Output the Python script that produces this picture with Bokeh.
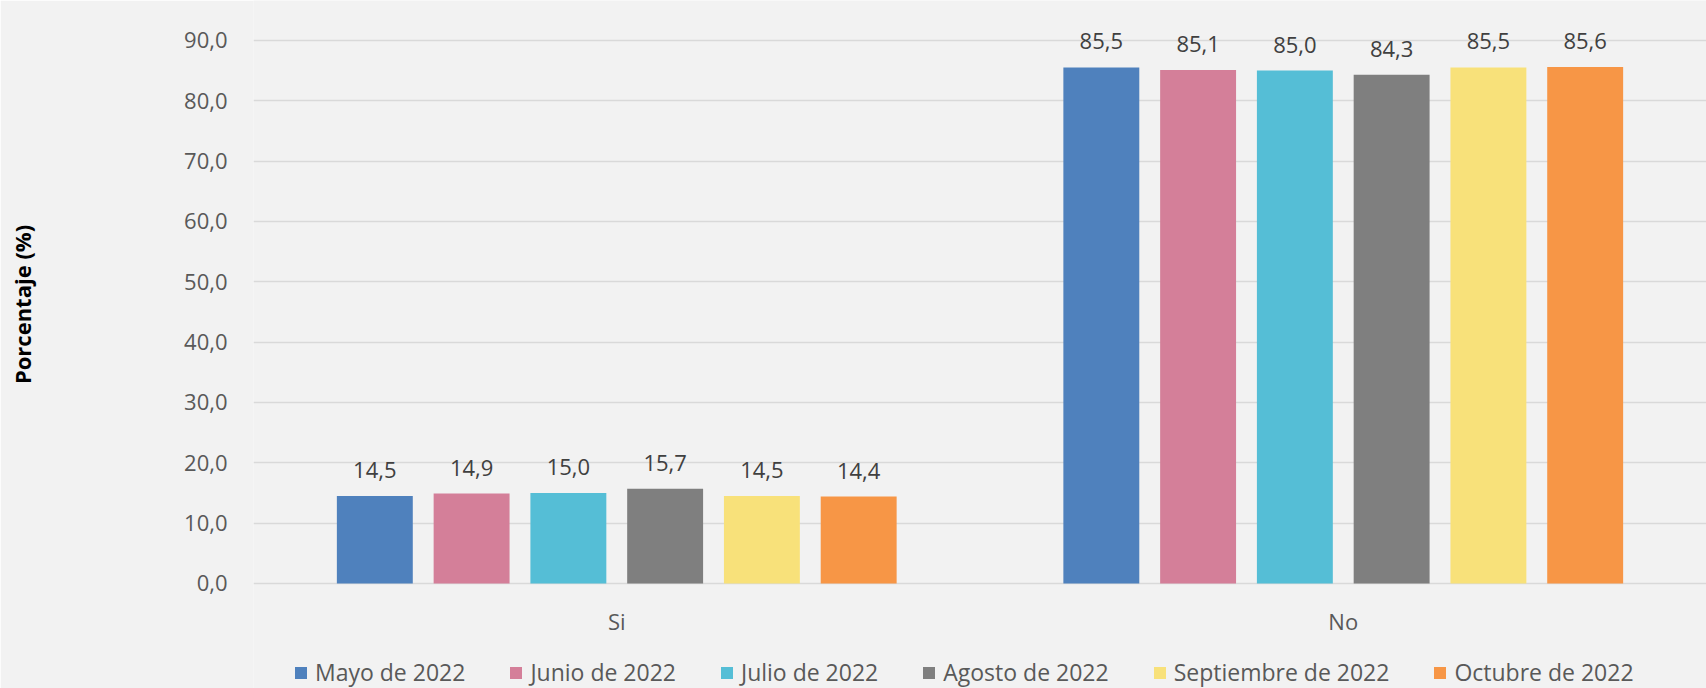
from bokeh.plotting import figure
from bokeh.models import (ColumnDataSource, FactorRange, Range1d, FixedTicker,
                          LabelSet, Legend, LegendItem)
from bokeh.transform import dodge
from bokeh.embed import file_html
from bokeh.resources import INLINE
from bokeh.core.properties import value

# ---------------- data ----------------
categories = ["Si", "No"]
series_names = ["Mayo de 2022", "Junio de 2022", "Julio de 2022",
                "Agosto de 2022", "Septiembre de 2022", "Octubre de 2022"]
mayo = [14.5, 85.5]
junio = [14.9, 85.1]
julio = [15.0, 85.0]
agosto = [15.7, 84.3]
septiembre = [14.5, 85.5]
octubre = [14.4, 85.6]
y_ticks = [0, 10, 20, 30, 40, 50, 60, 70, 80, 90]
y_tick_labels = ["0,0", "10,0", "20,0", "30,0", "40,0", "50,0",
                 "60,0", "70,0", "80,0", "90,0"]
y_title = "Porcentaje (%)"

series_values = [mayo, junio, julio, agosto, septiembre, octubre]
colors = ["#4f81bd", "#d47f99", "#55bed6", "#7f7f7f", "#f8e17a", "#f79646"]

FONT = "Open Sans"
BG = "#f2f2f2"

# frame spans the full figure height; y range padded so that 0..90 sits
# where the reference puts it, the space below 0 holds the labels/legend
p = figure(x_range=FactorRange(factors=categories, range_padding=0),
           y_range=Range1d(-17.4, 96.6),
           width=1706, height=688,
           output_backend="svg", toolbar_location=None,
           min_border_left=253, min_border_right=0,
           min_border_top=0, min_border_bottom=0)
p.background_fill_color = BG
p.border_fill_color = BG
p.outline_line_color = None

pitch = 0.1332
bar_w = 0.1045
items = []
for i, (name, vals, col) in enumerate(zip(series_names, series_values, colors)):
    off = (i - 2.5) * pitch
    src = ColumnDataSource(dict(cat=categories, val=vals,
                                lab=[("%.1f" % v).replace(".", ",") for v in vals]))
    r = p.vbar(x=dodge("cat", off, range=p.x_range), top="val", bottom=0,
               width=bar_w, source=src, fill_color=col, line_color=None)
    items.append(LegendItem(label=name, renderers=[r]))
    labels = LabelSet(x=dodge("cat", off, range=p.x_range), y="val", text="lab",
                      source=src, text_align="center", text_baseline="middle",
                      y_offset=26, text_font=value(FONT),
                      text_font_size=value("22px"), text_color="#404040")
    p.add_layout(labels)

# y axis
p.yaxis.ticker = FixedTicker(ticks=y_ticks)
p.yaxis.major_label_overrides = {t: l for t, l in zip(y_ticks, y_tick_labels)}
p.yaxis.axis_line_color = None
p.yaxis.major_tick_line_color = None
p.yaxis.minor_tick_line_color = None
p.yaxis.major_label_text_font = FONT
p.yaxis.major_label_text_font_size = "22px"
p.yaxis.major_label_text_color = "#595959"
p.yaxis.major_label_standoff = 20
# leading no-break spaces lift the centred title to where the reference has it
p.yaxis.axis_label = "\u00a0" * 14 + y_title
p.yaxis.axis_label_text_font = FONT
p.yaxis.axis_label_text_font_style = "bold"
p.yaxis.axis_label_text_font_size = "22px"
p.yaxis.axis_label_text_color = "#000000"
p.yaxis.axis_label_standoff = 144

# x axis drawn at y = 0
p.xaxis.fixed_location = 0
p.xaxis.axis_line_color = None
p.xaxis.major_tick_line_color = None
p.xaxis.minor_tick_line_color = None
p.xaxis.major_label_text_font = FONT
p.xaxis.major_label_text_font_size = "22px"
p.xaxis.major_label_text_color = "#595959"
p.xaxis.major_label_standoff = 17

p.xgrid.grid_line_color = None
p.ygrid.grid_line_color = "#d9d9d9"
p.ygrid.grid_line_width = 1.5

legend = Legend(items=items, location=(40, 0), orientation="horizontal",
                glyph_width=15, glyph_height=15, label_standoff=7, spacing=43,
                padding=0, margin=0, border_line_color=None,
                background_fill_alpha=0,
                label_text_font=FONT, label_text_font_size="23px",
                label_text_color="#595959")
p.add_layout(legend)

open("out.html", "w").write(file_html(p, INLINE))
